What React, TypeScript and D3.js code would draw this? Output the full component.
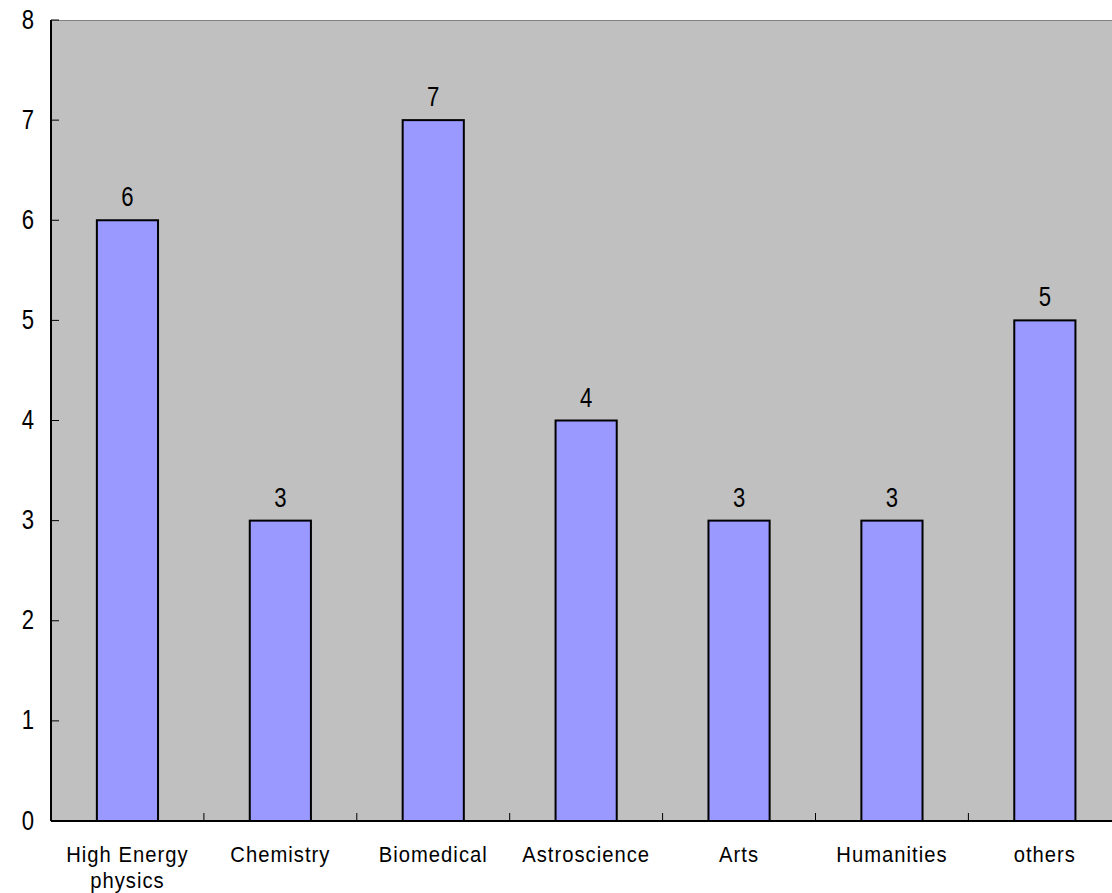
import React from "react";
import * as d3 from "d3";

const categories = ["High Energy\nphysics", "Chemistry", "Biomedical", "Astroscience", "Arts", "Humanities", "others"];
const values = [6, 3, 7, 4, 3, 3, 5];
const yTicks = [0, 1, 2, 3, 4, 5, 6, 7, 8];

const font = "'Liberation Sans', Arial, sans-serif";

function NText({ x, y, anchor = "middle", children, spacing = 0, fs = 27, sx = 0.82 }: { x: number; y: number; anchor?: string; children: React.ReactNode; spacing?: number; fs?: number; sx?: number }) {
  return (
    <text transform={`translate(${x},${y}) scale(${sx},1)`} textAnchor={anchor} fontFamily={font} fontSize={fs} fill="#000" letterSpacing={spacing}>
      {children}
    </text>
  );
}

export default function App() {
  const W = 1112, H = 893;
  const left = 51, top = 20, bottom = 821;
  const step = 152.9;
  const right = left + step * categories.length;
  const x = d3.scaleBand<number>().domain(d3.range(categories.length)).range([left, right]).paddingInner(0).paddingOuter(0);
  const y = d3.scaleLinear().domain([0, 8]).range([bottom, top]);
  const bw = x.bandwidth() * 0.4;
  return (
    <svg width={W} height={H} style={{ position: "absolute", left: 0, top: 0 }}>
      <rect x={left} y={top} width={right - left} height={bottom - top} fill="#C0C0C0" />
      <line x1={left} x2={right} y1={top + 0.5} y2={top + 0.5} stroke="#808080" strokeWidth={1} />
      {values.map((v, i) => {
        const cx = x(i)! + x.bandwidth() / 2;
        return (
          <g key={i}>
            <rect x={cx - bw / 2} y={y(v)} width={bw} height={bottom - y(v)} fill="#9999FF" stroke="#000" strokeWidth={2} />
            <NText x={cx} y={y(v) - 14}>{v}</NText>
          </g>
        );
      })}
      {d3.range(1, categories.length).map((i) => (
        <line key={i} x1={x(i)!} x2={x(i)!} y1={bottom} y2={bottom - 8} stroke="#000" strokeWidth={1} />
      ))}
      {yTicks.map((t) => (
        <g key={t}>
          <line x1={left} x2={left + 8} y1={y(t)} y2={y(t)} stroke="#000" strokeWidth={1} />
          <NText x={34} y={y(t) + 8.5} anchor="end">{t}</NText>
        </g>
      ))}
      <line x1={left} x2={left} y1={top} y2={bottom} stroke="#000" strokeWidth={2} />
      <line x1={left} x2={right} y1={bottom} y2={bottom} stroke="#000" strokeWidth={2} />
      {categories.map((c, i) => {
        const cx = x(i)! + x.bandwidth() / 2;
        return (
          <g key={i}>
            {c.split("\n").map((line, j) => (
              <NText key={j} x={cx} y={862 + j * 26} spacing={1.1} fs={22} sx={0.92}>{line}</NText>
            ))}
          </g>
        );
      })}
    </svg>
  );
}
